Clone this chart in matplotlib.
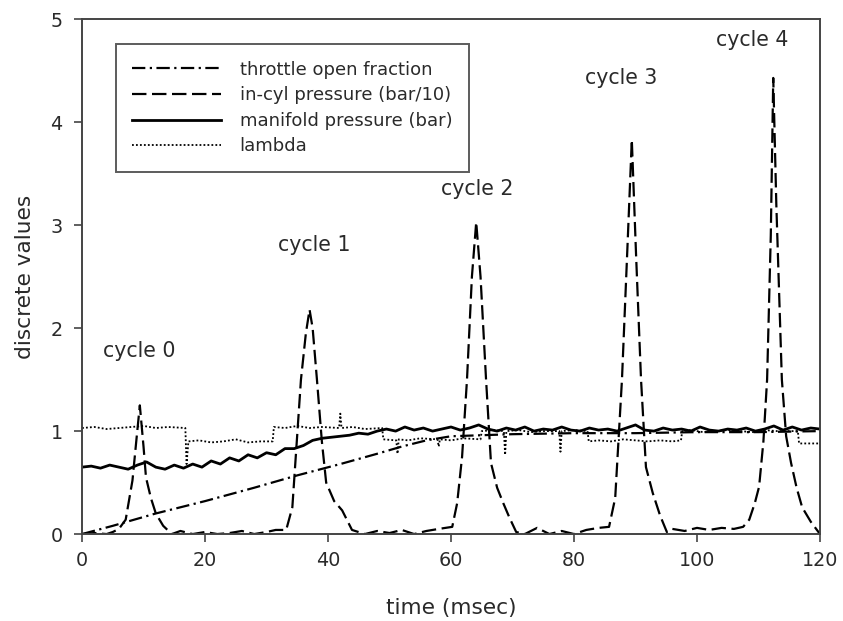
import numpy as np
import matplotlib.pyplot as plt

plt.rcParams['font.family'] = ['DejaVu Sans']

# throttle open fraction
thr_t = [0, 5, 12, 20, 28, 35, 42, 48, 52, 56, 60, 70, 80, 90, 100, 110, 120]
thr_v = [0.0, 0.08, 0.20, 0.32, 0.45, 0.57, 0.68, 0.78, 0.85, 0.91, 0.95, 0.97, 0.98, 0.98, 0.99, 0.99, 1.0]

# in-cylinder pressure (bar/10)
cyl_t = [0, 2, 4, 5, 6, 7.1, 8.2, 8.9, 9.4, 10.0, 10.4, 11.2, 12.0, 13.2, 14.6, 16, 18, 20, 22, 24, 26, 28, 30,
         31.5, 33.2, 34.2, 35.6, 36.4, 37.0, 37.5, 38.2, 39.0, 39.7, 41.0, 42.3, 43.9, 46, 48, 50, 52, 54, 56, 58,
         60.2, 61.0, 61.8, 62.6, 63.4, 64.1, 64.8, 65.7, 66.5, 67.5, 68.5, 69.5, 70.6, 72, 74, 76, 78, 80, 82, 84,
         85.7, 86.7, 87.8, 88.7, 89.4, 90.1, 90.9, 91.7, 92.8, 94.0, 95.1, 96, 98, 100, 102, 104, 106, 107.5,
         108.5, 109.4, 110.1, 110.8, 111.4, 112.0, 112.4, 112.9, 113.8, 114.5, 115.3, 116.2, 117.1, 118.5, 120]
cyl_v = [0.0, 0.01, 0.0, 0.02, 0.05, 0.14, 0.52, 0.95, 1.25, 0.85, 0.55, 0.35, 0.20, 0.08, 0.0, 0.03, 0.0, 0.02,
         0.0, 0.01, 0.03, 0.0, 0.02,
         0.04, 0.04, 0.26, 1.5, 1.95, 2.18, 2.0, 1.5, 0.9, 0.5, 0.32, 0.23, 0.04, 0.0, 0.03, 0.01, 0.04, 0.0, 0.03,
         0.05, 0.07, 0.3, 0.75, 1.5, 2.5, 3.03, 2.5, 1.5, 0.69, 0.45, 0.3, 0.16, 0.02, 0.0, 0.06, 0.0, 0.03, 0.0,
         0.04, 0.06, 0.07, 0.35, 1.5, 2.8, 3.83, 2.7, 1.5, 0.65, 0.4, 0.18, 0.02, 0.05, 0.03, 0.06, 0.04, 0.06,
         0.05, 0.07, 0.14, 0.3, 0.46, 0.9, 1.5, 2.9, 4.43, 3.2, 1.5, 0.95, 0.69, 0.45, 0.26, 0.12, 0.0]

# manifold pressure (bar), sampled every 1.5 ms
man_dt = 1.5
man_v = [0.65, 0.66, 0.64, 0.67, 0.65, 0.63, 0.67, 0.70, 0.65, 0.63, 0.67, 0.64,
         0.68, 0.65, 0.71, 0.68, 0.74, 0.71, 0.77, 0.74, 0.79, 0.77, 0.83, 0.83, 0.86, 0.91, 0.93, 0.94, 0.95,
         0.96, 0.98, 0.97, 1.00,
         1.02, 1.00, 1.04, 1.01, 1.03, 1.00, 1.02, 1.04, 1.01, 1.03, 1.06, 1.02, 1.00, 1.03, 1.01, 1.04, 1.00,
         1.02, 1.01, 1.04, 1.01, 1.00, 1.03, 1.01, 1.02, 1.00, 1.03, 1.06, 1.01, 1.00, 1.03, 1.01, 1.02, 1.00,
         1.04, 1.01, 1.00, 1.02, 1.01, 1.03, 1.00, 1.02, 1.05, 1.01, 1.04, 1.01, 1.03, 1.02]

# lambda
lam_t = [0, 2, 4, 6, 8, 10, 12, 14, 16.8, 17.0, 17.3, 19, 21, 23, 25, 27, 29, 31.0, 31.2, 33, 35, 37, 39, 41.8,
         42.0, 42.2, 44, 46, 48.8, 49.0, 51.1, 51.3, 51.5, 53, 55, 57.8, 58.0, 58.2, 60, 62, 64.8, 65.0, 67, 68.6,
         68.8, 69.0, 71, 73, 75, 77.6, 77.8, 78.0, 80, 82.2, 82.4, 84, 86, 88, 90, 92, 94, 96, 97.4, 97.6, 99,
         101, 103, 105, 107, 109, 111, 113, 116.4, 116.6, 118, 120]
lam_v = [1.03, 1.04, 1.02, 1.03, 1.04, 1.05, 1.03, 1.04, 1.03, 0.68, 0.90, 0.91, 0.89, 0.90, 0.92, 0.89,
         0.90, 0.90, 1.04, 1.03, 1.05, 1.03, 1.04, 1.03, 1.17, 1.03, 1.04, 1.02, 1.03, 0.92, 0.91, 0.78, 0.92,
         0.91, 0.93, 0.92, 0.85, 0.92, 0.91, 0.93, 0.92, 1.00, 1.01, 1.00, 0.77, 1.00, 1.01, 0.99, 1.00, 1.00,
         0.80, 1.00, 1.01, 1.00, 0.90, 0.91, 0.90, 0.92, 0.91, 0.90, 0.91, 0.90, 0.91, 1.00, 1.01, 0.99, 1.00,
         1.01, 1.00, 0.99, 1.01, 1.00, 1.00, 0.88, 0.88, 0.88]

cycle_labels = ['cycle 0', 'cycle 1', 'cycle 2', 'cycle 3', 'cycle 4']
cycle_x = [9.3, 37.8, 64.2, 87.6, 109.0]
cycle_y = [1.78, 2.81, 3.35, 4.43, 4.8]

txt = '#2a2a2a'

fig = plt.figure(figsize=(8.43, 6.21), dpi=100)
ax = fig.add_axes([0.0973, 0.140, 0.8754, 0.829])

man_t = np.arange(len(man_v)) * man_dt

ax.plot(thr_t, thr_v, color='k', lw=1.6, linestyle=(0, (6, 2, 1, 2)), label='throttle open fraction')
ax.plot(cyl_t, cyl_v, color='k', lw=1.6, linestyle=(0, (6.5, 2.5)), label='in-cyl pressure (bar/10)')
ax.plot(man_t, man_v, color='k', lw=2.0, label='manifold pressure (bar)')
ax.plot(lam_t, lam_v, color='k', lw=1.3, linestyle=(0, (1, 1.2)), label='lambda')

for lab, x, y in zip(cycle_labels, cycle_x, cycle_y):
    ax.text(x, y, lab, ha='center', va='center', fontsize=14.8, color=txt)

ax.set_xlim(0, 120)
ax.set_ylim(0, 5)
ax.set_xticks([0, 20, 40, 60, 80, 100, 120])
ax.set_yticks([0, 1, 2, 3, 4, 5])
ax.tick_params(direction='out', length=6, width=1.2, colors='#444444', labelcolor=txt, labelsize=13.8)
ax.tick_params(axis='x', pad=6)
ax.tick_params(axis='y', pad=8)
for s in ax.spines.values():
    s.set_color('#444444')
    s.set_linewidth(1.4)

ax.set_xlabel('time (msec)', fontsize=15.6, color=txt, labelpad=20)
ax.set_ylabel('discrete values', fontsize=15.6, color=txt, labelpad=11)

leg = ax.legend(loc='upper left', bbox_to_anchor=(0.046, 0.951), fontsize=13, frameon=True, fancybox=False,
                edgecolor='#333333', handlelength=4.9, handletextpad=1.05, labelspacing=0.42,
                borderpad=0.9, borderaxespad=0)
leg.get_frame().set_linewidth(1.4)
for t in leg.get_texts():
    t.set_color(txt)

fig.savefig('out.png', dpi=100)
